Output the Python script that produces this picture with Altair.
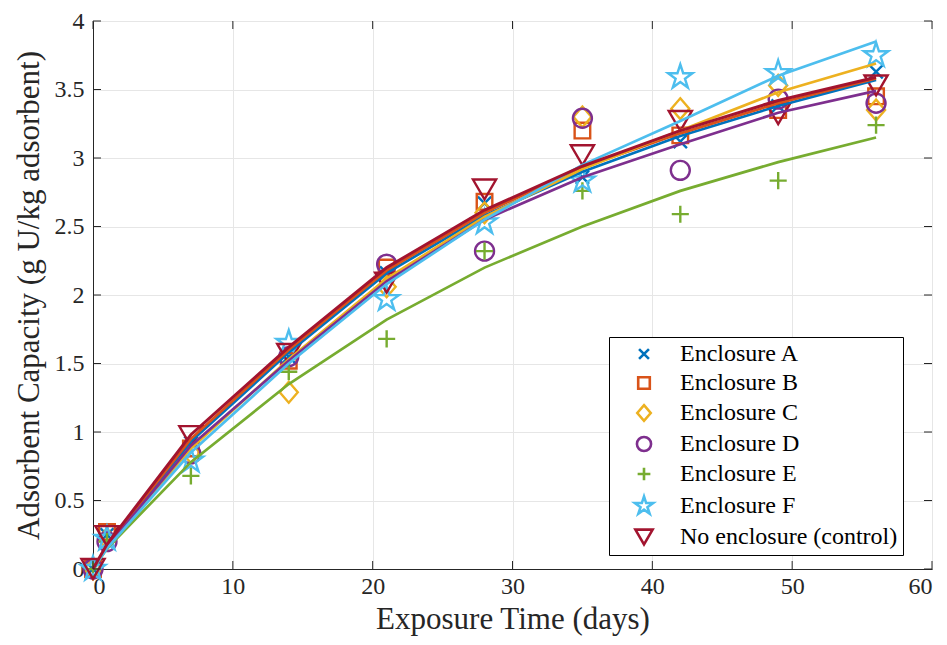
import altair as alt
import pandas as pd

times = [0, 1, 7, 14, 21, 28, 35, 42, 49, 56]
series = ["Enclosure A", "Enclosure B", "Enclosure C", "Enclosure D",
          "Enclosure E", "Enclosure F", "No enclosure (control)"]
colors = ["#0072BD", "#D95319", "#EDB120", "#7E2F8E", "#77AC30", "#4DBEEE", "#A2142F"]
shapes = [
    "M-0.7,-0.7L0.7,0.7M0.7,-0.7L-0.7,0.7",
    "M-0.82,-0.82L0.82,-0.82L0.82,0.82L-0.82,0.82Z",
    "M0,-1.1L0.95,0L0,1.1L-0.95,0Z",
    "circle",
    "M-0.9,0L0.9,0M0,-0.9L0,0.9",
    "M0,-1.35L0.303,-0.417L1.284,-0.417L0.49,0.159L0.794,1.092L0,0.516L-0.794,1.092L-0.49,0.159L-1.284,-0.417L-0.303,-0.417Z",
    "M-1.22,-1.05L1.22,-1.05L0,1.05Z",
]

# measured points
pts_A = [0, 0.25, 0.92, 1.55, 2.16, 2.67, 2.86, 3.12, 3.38, 3.63]
pts_B = [0, 0.27, 0.88, 1.52, 2.20, 2.68, 3.20, 3.165, 3.35, 3.45]
pts_C = [0, 0.22, 0.85, 1.29, 2.06, 2.60, 3.30, 3.36, 3.53, 3.35]
pts_D = [0, 0.20, 0.84, 1.55, 2.225, 2.32, 3.29, 2.91, 3.43, 3.40]
pts_E = [0, 0.20, 0.68, 1.44, 1.68, 2.32, 2.76, 2.59, 2.835, 3.24]
pts_F = [0, 0.22, 0.79, 1.65, 1.97, 2.53, 2.835, 3.59, 3.62, 3.75]
pts_ctrl = [0, 0.24, 0.97, 1.57, 2.09, 2.77, 3.02, 3.27, 3.32, 3.53]

# fitted curves
fit_A = [0, 0.17, 0.93, 1.58, 2.16, 2.58, 2.90, 3.16, 3.38, 3.57]
fit_B = [0, 0.17, 0.95, 1.60, 2.18, 2.60, 2.93, 3.18, 3.40, 3.58]
fit_C = [0, 0.16, 0.88, 1.53, 2.12, 2.57, 2.92, 3.20, 3.48, 3.69]
fit_D = [0, 0.16, 0.90, 1.52, 2.10, 2.55, 2.86, 3.10, 3.33, 3.49]
fit_E = [0, 0.15, 0.78, 1.35, 1.82, 2.20, 2.50, 2.76, 2.97, 3.15]
fit_F = [0, 0.15, 0.85, 1.50, 2.08, 2.55, 2.95, 3.27, 3.60, 3.85]
fit_ctrl = [0, 0.18, 0.98, 1.62, 2.20, 2.62, 2.94, 3.20, 3.42, 3.59]

x_ticks = [0, 10, 20, 30, 40, 50, 60]
y_ticks = [0, 0.5, 1, 1.5, 2, 2.5, 3, 3.5, 4]

pts_all = [pts_A, pts_B, pts_C, pts_D, pts_E, pts_F, pts_ctrl]
fit_all = [fit_A, fit_B, fit_C, fit_D, fit_E, fit_F, fit_ctrl]

rows_p, rows_f = [], []
for s, p, f in zip(series, pts_all, fit_all):
    for t, a, b in zip(times, p, f):
        rows_p.append({"t": t, "v": a, "series": s})
        rows_f.append({"t": t, "w": b, "line": s})
dp = pd.DataFrame(rows_p)
df = pd.DataFrame(rows_f)
dxt = pd.DataFrame({"xt": x_ticks})
dyt = pd.DataFrame({"yt": y_ticks})

W, H = 839, 548
FONT = "Liberation Serif, Times New Roman, DejaVu Serif, serif"

xscale = alt.Scale(domain=[0, 60], nice=False, zero=False)
yscale = alt.Scale(domain=[0, 4], nice=False, zero=False)

xaxis = alt.Axis(values=x_ticks, title="Exposure Time (days)", ticks=False, orient="bottom",
                 labelPadding=5, labelExpr="'' + datum.value", titlePadding=6)
yaxis = alt.Axis(values=y_ticks, title="Adsorbent Capacity (g U/kg adsorbent)", ticks=False,
                 orient="left", labelPadding=9, labelExpr="'' + datum.value", titlePadding=9)

points = alt.Chart(dp).mark_point(filled=False, strokeWidth=2.4, size=360, opacity=1).encode(
    x=alt.X("t:Q", scale=xscale, axis=xaxis),
    y=alt.Y("v:Q", scale=yscale, axis=yaxis),
    color=alt.Color("series:N", scale=alt.Scale(domain=series, range=colors),
                    legend=alt.Legend(orient="none", legendX=516, legendY=316, title=None,
                                      fillColor="white", strokeColor="black", padding=5,
                                      labelFont=FONT, labelFontSize=24, labelColor="black",
                                      symbolSize=200, symbolStrokeWidth=2.6, rowPadding=5,
                                      symbolOffset=18, labelOffset=24, labelLimit=400)),
    shape=alt.Shape("series:N", scale=alt.Scale(domain=series, range=shapes)),
)

line_layers = []
for s, c in zip(series, colors):
    line_layers.append(
        alt.Chart(df).transform_filter(alt.datum.line == s).mark_line(
            strokeWidth=3.0 if s.startswith("No") else 2.7, color=c
        ).encode(
            x=alt.X("t:Q", scale=xscale, axis=xaxis),
            y=alt.Y("w:Q", scale=yscale, axis=yaxis),
        )
    )

tk = 8
xt_bottom = alt.Chart(dxt).mark_rule(color="#262626", strokeWidth=1).encode(
    x=alt.X("xt:Q", scale=xscale, axis=xaxis), y=alt.value(H), y2=alt.value(H - tk))
xt_top = alt.Chart(dxt).mark_rule(color="#262626", strokeWidth=1).encode(
    x=alt.X("xt:Q", scale=xscale, axis=xaxis), y=alt.value(0), y2=alt.value(tk))
yt_left = alt.Chart(dyt).mark_rule(color="#262626", strokeWidth=1).encode(
    y=alt.Y("yt:Q", scale=yscale, axis=yaxis), x=alt.value(0), x2=alt.value(tk))
yt_right = alt.Chart(dyt).mark_rule(color="#262626", strokeWidth=1).encode(
    y=alt.Y("yt:Q", scale=yscale, axis=yaxis), x=alt.value(W), x2=alt.value(W - tk))

chart = alt.layer(points, *line_layers, xt_bottom, xt_top, yt_left, yt_right).properties(
    width=W, height=H,
    autosize=alt.AutoSizeParams(type="none"),
    padding={"left": 85, "top": 13, "right": 7, "bottom": 68},
).configure_view(
    stroke="#262626", strokeWidth=1
).configure_axis(
    domainColor="#262626", domainWidth=1,
    gridColor="#e6e6e6", gridWidth=1,
    labelFont=FONT, labelFontSize=24, labelColor="#262626",
    titleFont=FONT, titleFontSize=31, titleColor="#262626", titleFontWeight="normal",
)

chart.save("out.html", embed_options={"renderer": "svg", "actions": False})
